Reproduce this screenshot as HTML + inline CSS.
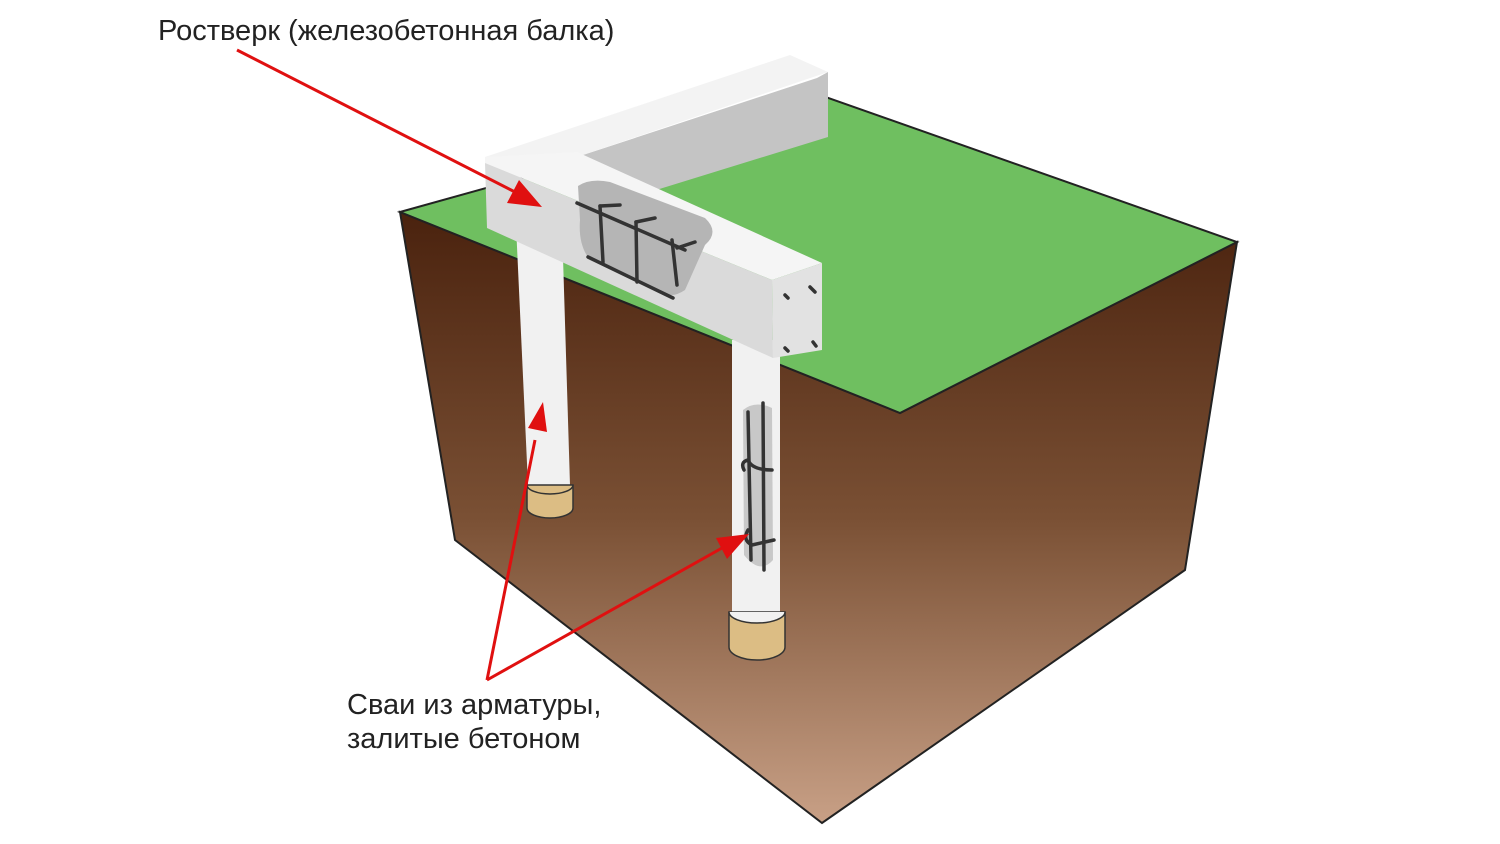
<!DOCTYPE html>
<html><head><meta charset="utf-8"><style>
html,body{margin:0;padding:0;background:#fff;}
svg{display:block;}
text{font-family:"Liberation Sans","Noto Sans CJK SC",sans-serif;fill:#222;}
</style></head><body>
<svg width="1500" height="844" viewBox="0 0 1500 844" xmlns="http://www.w3.org/2000/svg">
<defs>
<linearGradient id="soil" x1="0" y1="212" x2="0" y2="823" gradientUnits="userSpaceOnUse">
<stop offset="0" stop-color="#4a220e"/><stop offset="0.5" stop-color="#7a5034"/><stop offset="1" stop-color="#c8a086"/>
</linearGradient>
</defs>
<!-- soil -->
<polygon points="400,212 900,413 1237,242 1185,570 822,823 455,540" fill="url(#soil)" stroke="#222" stroke-width="2"/>
<!-- green top -->
<polygon points="400,212 820,95 1237,242 900,413" fill="#6fbf60" stroke="#222" stroke-width="2"/>
<!-- piles -->
<polygon points="516,225 562,225 570,485 528,485" fill="#f1f1f1"/>
<path d="M527,485 L527,508 A23,10 0 0 0 573,508 L573,485 Z" fill="#dcbd84" stroke="#333" stroke-width="1.5"/>
<path d="M527,485 A23,9 0 0 0 573,485" fill="none" stroke="#333" stroke-width="1.5"/>
<rect x="732" y="340" width="48" height="272" fill="#f1f1f1"/>
<path d="M729,612 L729,647 A28,13 0 0 0 785,647 L785,612 Z" fill="#dcbd84" stroke="#333" stroke-width="1.5"/>
<path d="M729,612 A28,11 0 0 0 785,612" fill="#f1f1f1" stroke="#333" stroke-width="1.5"/>
<path d="M743,410 Q755,400 772,408 L773,560 Q760,575 744,555 Z" fill="#c8c8c8"/>
<g stroke="#333" stroke-width="3.5" fill="none" stroke-linecap="round">
<line x1="748" y1="412" x2="751" y2="560"/><line x1="763" y1="403" x2="764" y2="570"/>
<path d="M744,470 Q740,462 748,460 Q752,470 772,470"/><path d="M748,530 Q742,540 752,545 L774,540"/>
</g>
<!-- beam back arm -->
<polygon points="485,157 790,55 828,72 577,157" fill="#f3f3f3"/>
<polygon points="577,157 817,78 828,72 828,137 640,195 577,190" fill="#c4c4c4"/>
<!-- front arm -->
<polygon points="485,157 577,152 822,263 772,280 485,163" fill="#f5f5f5"/>
<polygon points="485,163 772,280 773,358 487,228" fill="#dadada"/>
<polygon points="772,280 822,263 822,350 773,358" fill="#e2e2e2"/>
<path d="M578,186 Q590,178 610,182 L705,218 Q720,232 705,245 L685,290 Q670,300 660,290 L590,260 Q578,245 580,220 Z" fill="#b5b5b5"/>
<g stroke="#333" stroke-width="3.5" stroke-linecap="round">
<line x1="577" y1="203" x2="685" y2="250"/><line x1="588" y1="257" x2="673" y2="298"/>
<line x1="600" y1="206" x2="603" y2="262"/><line x1="636" y1="222" x2="637" y2="282"/><line x1="672" y1="240" x2="677" y2="285"/>
<line x1="600" y1="206" x2="620" y2="205"/><line x1="636" y1="222" x2="655" y2="218"/><line x1="677" y1="248" x2="695" y2="242"/>
<line x1="785" y1="295" x2="788" y2="298"/><line x1="810" y1="287" x2="815" y2="292"/>
<line x1="785" y1="348" x2="788" y2="351"/><line x1="813" y1="342" x2="816" y2="346"/>
</g>
<!-- arrows -->
<g stroke="#e01010" stroke-width="3" fill="none">
<line x1="237" y1="50" x2="515" y2="192"/>
<line x1="487" y1="680" x2="535" y2="440"/>
<line x1="487" y1="680" x2="722" y2="548"/>
</g>
<g fill="#e01010">
<polygon points="542,207 507,203 519,180"/>
<polygon points="543,402 547,432 528,428"/>
<polygon points="749,534 727,559 716,538"/>
</g>
<text x="158" y="40" font-size="29">Ростверк (железобетонная балка)</text>
<text x="347" y="714" font-size="29">Сваи из арматуры,</text>
<text x="347" y="748" font-size="29">залитые бетоном</text>
</svg>
</body></html>
